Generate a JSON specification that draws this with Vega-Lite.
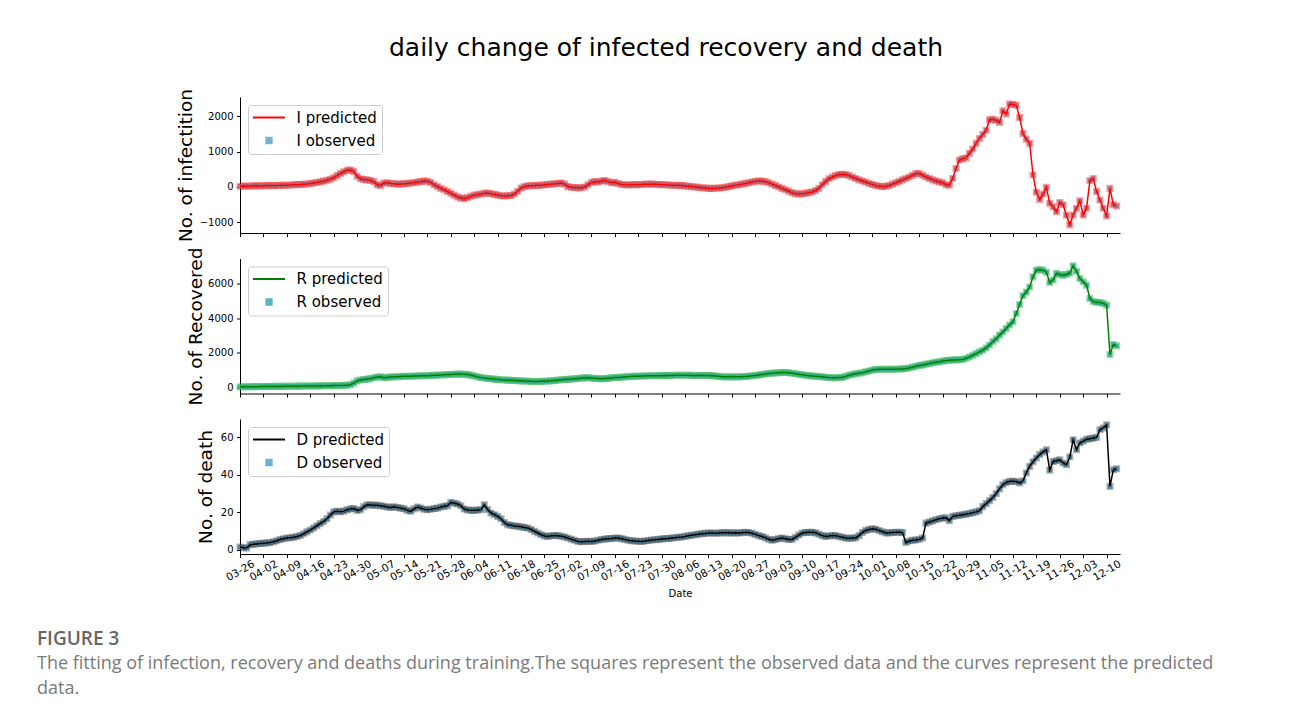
{
  "$schema": "https://vega.github.io/schema/vega-lite/v6.json",
  "padding": {"left": 37, "top": 36, "right": 5, "bottom": 5},
  "background": "white",
  "config": {
    "font": "DejaVu Sans",
    "view": {"stroke": null},
    "axis": {
      "grid": false,
      "domainColor": "#000000",
      "domainWidth": 1,
      "tickColor": "#000000",
      "tickWidth": 1,
      "tickSize": 3.5,
      "labelColor": "#000000",
      "labelFont": "DejaVu Sans",
      "labelFontSize": 10,
      "labelPadding": 3.5,
      "titleColor": "#000000",
      "titleFont": "DejaVu Sans",
      "titleFontWeight": "normal"
    },
    "axisY": {"titleFontSize": 18.5, "titlePadding": 4},
    "legend": {
      "labelFont": "DejaVu Sans",
      "labelFontSize": 15,
      "labelColor": "#000000",
      "padding": 5,
      "fillColor": "#ffffff",
      "strokeColor": "#cccccc",
      "cornerRadius": 3,
      "labelOffset": 20,
      "rowPadding": 7,
      "symbolOffset": 8.5,
      "symbolSize": 1024,
      "symbolStrokeWidth": 2
    }
  },
  "data": {
    "format": {"parse": {"t": "date:'%Y-%m-%d'"}},
    "values": [
      {"t":"2020-03-26","I":20,"R":30,"D":1.4},
      {"t":"2020-03-27","I":25,"R":35,"D":1.0},
      {"t":"2020-03-28","I":22,"R":40,"D":0.9},
      {"t":"2020-03-29","I":28,"R":40,"D":2.7},
      {"t":"2020-03-30","I":30,"R":45,"D":2.9},
      {"t":"2020-03-31","I":32,"R":45,"D":3.1},
      {"t":"2020-04-01","I":30,"R":50,"D":3.3},
      {"t":"2020-04-02","I":35,"R":50,"D":3.5},
      {"t":"2020-04-03","I":38,"R":55,"D":3.6},
      {"t":"2020-04-04","I":40,"R":55,"D":3.8},
      {"t":"2020-04-05","I":38,"R":60,"D":4.2},
      {"t":"2020-04-06","I":42,"R":60,"D":4.8},
      {"t":"2020-04-07","I":45,"R":60,"D":5.4},
      {"t":"2020-04-08","I":48,"R":65,"D":5.8},
      {"t":"2020-04-09","I":50,"R":65,"D":6.2},
      {"t":"2020-04-10","I":55,"R":70,"D":6.4},
      {"t":"2020-04-11","I":60,"R":70,"D":6.6},
      {"t":"2020-04-12","I":65,"R":75,"D":7.0},
      {"t":"2020-04-13","I":70,"R":75,"D":7.6},
      {"t":"2020-04-14","I":78,"R":80,"D":8.5},
      {"t":"2020-04-15","I":85,"R":80,"D":9.5},
      {"t":"2020-04-16","I":95,"R":85,"D":10.5},
      {"t":"2020-04-17","I":110,"R":85,"D":11.6},
      {"t":"2020-04-18","I":125,"R":90,"D":12.8},
      {"t":"2020-04-19","I":145,"R":90,"D":14.0},
      {"t":"2020-04-20","I":165,"R":95,"D":15.1},
      {"t":"2020-04-21","I":190,"R":100,"D":16.5},
      {"t":"2020-04-22","I":220,"R":100,"D":18.5},
      {"t":"2020-04-23","I":260,"R":105,"D":20.2},
      {"t":"2020-04-24","I":320,"R":110,"D":20.5},
      {"t":"2020-04-25","I":380,"R":115,"D":20.3},
      {"t":"2020-04-26","I":430,"R":120,"D":20.6},
      {"t":"2020-04-27","I":470,"R":130,"D":21.3},
      {"t":"2020-04-28","I":480,"R":160,"D":21.8},
      {"t":"2020-04-29","I":440,"R":250,"D":22.0},
      {"t":"2020-04-30","I":300,"R":380,"D":21.0},
      {"t":"2020-05-01","I":230,"R":430,"D":21.3},
      {"t":"2020-05-02","I":210,"R":460,"D":23.0},
      {"t":"2020-05-03","I":200,"R":480,"D":24.0},
      {"t":"2020-05-04","I":180,"R":510,"D":23.9},
      {"t":"2020-05-05","I":150,"R":560,"D":23.8},
      {"t":"2020-05-06","I":60,"R":600,"D":23.7},
      {"t":"2020-05-07","I":40,"R":610,"D":23.5},
      {"t":"2020-05-08","I":110,"R":560,"D":23.2},
      {"t":"2020-05-09","I":120,"R":580,"D":22.8},
      {"t":"2020-05-10","I":100,"R":600,"D":22.6},
      {"t":"2020-05-11","I":90,"R":610,"D":22.9},
      {"t":"2020-05-12","I":80,"R":620,"D":22.5},
      {"t":"2020-05-13","I":85,"R":630,"D":22.2},
      {"t":"2020-05-14","I":90,"R":640,"D":21.9},
      {"t":"2020-05-15","I":100,"R":650,"D":21.0},
      {"t":"2020-05-16","I":110,"R":650,"D":20.5},
      {"t":"2020-05-17","I":120,"R":660,"D":21.8},
      {"t":"2020-05-18","I":140,"R":660,"D":22.8},
      {"t":"2020-05-19","I":150,"R":670,"D":22.3},
      {"t":"2020-05-20","I":170,"R":670,"D":21.6},
      {"t":"2020-05-21","I":160,"R":680,"D":21.3},
      {"t":"2020-05-22","I":130,"R":690,"D":21.6},
      {"t":"2020-05-23","I":60,"R":700,"D":22.0},
      {"t":"2020-05-24","I":10,"R":710,"D":22.2},
      {"t":"2020-05-25","I":-40,"R":720,"D":22.8},
      {"t":"2020-05-26","I":-80,"R":730,"D":23.2},
      {"t":"2020-05-27","I":-130,"R":740,"D":23.5},
      {"t":"2020-05-28","I":-180,"R":750,"D":25.3},
      {"t":"2020-05-29","I":-230,"R":760,"D":24.8},
      {"t":"2020-05-30","I":-280,"R":770,"D":24.4},
      {"t":"2020-05-31","I":-310,"R":770,"D":23.5},
      {"t":"2020-06-01","I":-330,"R":760,"D":21.7},
      {"t":"2020-06-02","I":-300,"R":740,"D":21.2},
      {"t":"2020-06-03","I":-260,"R":710,"D":21.0},
      {"t":"2020-06-04","I":-230,"R":660,"D":21.0},
      {"t":"2020-06-05","I":-220,"R":610,"D":21.2},
      {"t":"2020-06-06","I":-200,"R":570,"D":21.3},
      {"t":"2020-06-07","I":-180,"R":540,"D":24.0},
      {"t":"2020-06-08","I":-170,"R":520,"D":21.5},
      {"t":"2020-06-09","I":-190,"R":500,"D":19.6},
      {"t":"2020-06-10","I":-210,"R":480,"D":18.7},
      {"t":"2020-06-11","I":-230,"R":460,"D":17.8},
      {"t":"2020-06-12","I":-250,"R":440,"D":16.5},
      {"t":"2020-06-13","I":-255,"R":430,"D":14.5},
      {"t":"2020-06-14","I":-250,"R":420,"D":13.3},
      {"t":"2020-06-15","I":-240,"R":410,"D":13.0},
      {"t":"2020-06-16","I":-200,"R":400,"D":12.7},
      {"t":"2020-06-17","I":-120,"R":390,"D":12.5},
      {"t":"2020-06-18","I":-30,"R":380,"D":12.2},
      {"t":"2020-06-19","I":10,"R":370,"D":11.9},
      {"t":"2020-06-20","I":30,"R":360,"D":11.6},
      {"t":"2020-06-21","I":35,"R":350,"D":10.8},
      {"t":"2020-06-22","I":40,"R":340,"D":9.8},
      {"t":"2020-06-23","I":45,"R":340,"D":8.9},
      {"t":"2020-06-24","I":50,"R":350,"D":8.0},
      {"t":"2020-06-25","I":60,"R":360,"D":7.3},
      {"t":"2020-06-26","I":70,"R":370,"D":7.1},
      {"t":"2020-06-27","I":80,"R":380,"D":7.4},
      {"t":"2020-06-28","I":90,"R":400,"D":7.6},
      {"t":"2020-06-29","I":100,"R":420,"D":7.5},
      {"t":"2020-06-30","I":110,"R":440,"D":7.2},
      {"t":"2020-07-01","I":80,"R":460,"D":6.8},
      {"t":"2020-07-02","I":10,"R":470,"D":6.2},
      {"t":"2020-07-03","I":-10,"R":480,"D":5.6},
      {"t":"2020-07-04","I":-15,"R":500,"D":5.0},
      {"t":"2020-07-05","I":-20,"R":520,"D":4.4},
      {"t":"2020-07-06","I":-20,"R":540,"D":4.3},
      {"t":"2020-07-07","I":0,"R":550,"D":4.4},
      {"t":"2020-07-08","I":60,"R":560,"D":4.5},
      {"t":"2020-07-09","I":130,"R":540,"D":4.4},
      {"t":"2020-07-10","I":150,"R":520,"D":4.6},
      {"t":"2020-07-11","I":140,"R":510,"D":5.0},
      {"t":"2020-07-12","I":170,"R":500,"D":5.4},
      {"t":"2020-07-13","I":180,"R":510,"D":5.7},
      {"t":"2020-07-14","I":150,"R":530,"D":5.9},
      {"t":"2020-07-15","I":120,"R":550,"D":6.0},
      {"t":"2020-07-16","I":130,"R":570,"D":6.2},
      {"t":"2020-07-17","I":100,"R":580,"D":6.2},
      {"t":"2020-07-18","I":70,"R":590,"D":5.9},
      {"t":"2020-07-19","I":60,"R":610,"D":5.5},
      {"t":"2020-07-20","I":55,"R":620,"D":5.0},
      {"t":"2020-07-21","I":60,"R":640,"D":4.8},
      {"t":"2020-07-22","I":65,"R":650,"D":4.6},
      {"t":"2020-07-23","I":60,"R":650,"D":4.5},
      {"t":"2020-07-24","I":70,"R":660,"D":4.4},
      {"t":"2020-07-25","I":75,"R":660,"D":4.6},
      {"t":"2020-07-26","I":80,"R":670,"D":4.9},
      {"t":"2020-07-27","I":80,"R":670,"D":5.2},
      {"t":"2020-07-28","I":75,"R":670,"D":5.3},
      {"t":"2020-07-29","I":70,"R":680,"D":5.5},
      {"t":"2020-07-30","I":65,"R":680,"D":5.7},
      {"t":"2020-07-31","I":60,"R":680,"D":5.9},
      {"t":"2020-08-01","I":55,"R":690,"D":6.0},
      {"t":"2020-08-02","I":50,"R":690,"D":6.2},
      {"t":"2020-08-03","I":50,"R":700,"D":6.4},
      {"t":"2020-08-04","I":45,"R":700,"D":6.6},
      {"t":"2020-08-05","I":40,"R":700,"D":6.8},
      {"t":"2020-08-06","I":30,"R":700,"D":7.1},
      {"t":"2020-08-07","I":20,"R":700,"D":7.4},
      {"t":"2020-08-08","I":10,"R":695,"D":7.7},
      {"t":"2020-08-09","I":0,"R":690,"D":8.0},
      {"t":"2020-08-10","I":-10,"R":690,"D":8.3},
      {"t":"2020-08-11","I":-20,"R":690,"D":8.5},
      {"t":"2020-08-12","I":-30,"R":690,"D":8.7},
      {"t":"2020-08-13","I":-40,"R":690,"D":8.9},
      {"t":"2020-08-14","I":-40,"R":680,"D":8.9},
      {"t":"2020-08-15","I":-35,"R":660,"D":8.8},
      {"t":"2020-08-16","I":-30,"R":640,"D":8.9},
      {"t":"2020-08-17","I":-20,"R":620,"D":9.0},
      {"t":"2020-08-18","I":-10,"R":610,"D":9.1},
      {"t":"2020-08-19","I":10,"R":610,"D":9.0},
      {"t":"2020-08-20","I":30,"R":610,"D":8.9},
      {"t":"2020-08-21","I":50,"R":610,"D":9.0},
      {"t":"2020-08-22","I":60,"R":610,"D":8.9},
      {"t":"2020-08-23","I":80,"R":620,"D":9.1},
      {"t":"2020-08-24","I":100,"R":630,"D":9.3},
      {"t":"2020-08-25","I":120,"R":650,"D":9.2},
      {"t":"2020-08-26","I":140,"R":670,"D":8.8},
      {"t":"2020-08-27","I":160,"R":690,"D":8.2},
      {"t":"2020-08-28","I":170,"R":720,"D":7.5},
      {"t":"2020-08-29","I":165,"R":750,"D":7.0},
      {"t":"2020-08-30","I":150,"R":780,"D":6.3},
      {"t":"2020-08-31","I":120,"R":800,"D":5.6},
      {"t":"2020-09-01","I":80,"R":820,"D":5.0},
      {"t":"2020-09-02","I":40,"R":840,"D":5.4},
      {"t":"2020-09-03","I":0,"R":850,"D":5.9},
      {"t":"2020-09-04","I":-40,"R":860,"D":6.2},
      {"t":"2020-09-05","I":-80,"R":860,"D":5.8},
      {"t":"2020-09-06","I":-120,"R":850,"D":5.4},
      {"t":"2020-09-07","I":-160,"R":820,"D":5.5},
      {"t":"2020-09-08","I":-190,"R":790,"D":6.6},
      {"t":"2020-09-09","I":-200,"R":760,"D":7.8},
      {"t":"2020-09-10","I":-195,"R":730,"D":8.9},
      {"t":"2020-09-11","I":-180,"R":700,"D":9.2},
      {"t":"2020-09-12","I":-160,"R":680,"D":9.3},
      {"t":"2020-09-13","I":-140,"R":660,"D":9.3},
      {"t":"2020-09-14","I":-100,"R":650,"D":9.0},
      {"t":"2020-09-15","I":-40,"R":630,"D":8.3},
      {"t":"2020-09-16","I":60,"R":610,"D":7.5},
      {"t":"2020-09-17","I":150,"R":590,"D":7.1},
      {"t":"2020-09-18","I":230,"R":570,"D":7.3},
      {"t":"2020-09-19","I":280,"R":560,"D":7.6},
      {"t":"2020-09-20","I":320,"R":560,"D":7.5},
      {"t":"2020-09-21","I":350,"R":570,"D":7.0},
      {"t":"2020-09-22","I":360,"R":580,"D":6.6},
      {"t":"2020-09-23","I":350,"R":640,"D":6.2},
      {"t":"2020-09-24","I":320,"R":700,"D":6.1},
      {"t":"2020-09-25","I":280,"R":750,"D":6.2},
      {"t":"2020-09-26","I":240,"R":790,"D":6.3},
      {"t":"2020-09-27","I":200,"R":820,"D":7.5},
      {"t":"2020-09-28","I":170,"R":850,"D":9.2},
      {"t":"2020-09-29","I":140,"R":900,"D":10.3},
      {"t":"2020-09-30","I":100,"R":950,"D":10.8},
      {"t":"2020-10-01","I":70,"R":1000,"D":11.2},
      {"t":"2020-10-02","I":40,"R":1040,"D":10.9},
      {"t":"2020-10-03","I":20,"R":1050,"D":10.2},
      {"t":"2020-10-04","I":10,"R":1050,"D":9.6},
      {"t":"2020-10-05","I":20,"R":1050,"D":8.9},
      {"t":"2020-10-06","I":40,"R":1050,"D":9.0},
      {"t":"2020-10-07","I":80,"R":1050,"D":9.2},
      {"t":"2020-10-08","I":120,"R":1050,"D":9.3},
      {"t":"2020-10-09","I":160,"R":1060,"D":9.3},
      {"t":"2020-10-10","I":200,"R":1070,"D":9.2},
      {"t":"2020-10-11","I":240,"R":1090,"D":3.9},
      {"t":"2020-10-12","I":280,"R":1120,"D":4.6},
      {"t":"2020-10-13","I":330,"R":1170,"D":5.0},
      {"t":"2020-10-14","I":380,"R":1220,"D":5.2},
      {"t":"2020-10-15","I":380,"R":1270,"D":5.6},
      {"t":"2020-10-16","I":330,"R":1300,"D":6.2},
      {"t":"2020-10-17","I":280,"R":1340,"D":14.2},
      {"t":"2020-10-18","I":240,"R":1380,"D":14.8},
      {"t":"2020-10-19","I":200,"R":1420,"D":15.4},
      {"t":"2020-10-20","I":170,"R":1450,"D":16.0},
      {"t":"2020-10-21","I":140,"R":1480,"D":16.5},
      {"t":"2020-10-22","I":120,"R":1520,"D":16.9},
      {"t":"2020-10-23","I":60,"R":1550,"D":17.0},
      {"t":"2020-10-24","I":50,"R":1570,"D":15.5},
      {"t":"2020-10-25","I":240,"R":1580,"D":17.8},
      {"t":"2020-10-26","I":520,"R":1590,"D":18.1},
      {"t":"2020-10-27","I":760,"R":1600,"D":18.4},
      {"t":"2020-10-28","I":800,"R":1610,"D":18.7},
      {"t":"2020-10-29","I":820,"R":1680,"D":19.0},
      {"t":"2020-10-30","I":950,"R":1760,"D":19.3},
      {"t":"2020-10-31","I":1070,"R":1860,"D":19.8},
      {"t":"2020-11-01","I":1230,"R":1950,"D":20.2},
      {"t":"2020-11-02","I":1370,"R":2050,"D":20.8},
      {"t":"2020-11-03","I":1480,"R":2150,"D":23.0},
      {"t":"2020-11-04","I":1600,"R":2280,"D":24.6},
      {"t":"2020-11-05","I":1900,"R":2450,"D":26.2},
      {"t":"2020-11-06","I":1910,"R":2650,"D":27.9},
      {"t":"2020-11-07","I":1880,"R":2800,"D":30.0},
      {"t":"2020-11-08","I":1820,"R":3020,"D":32.5},
      {"t":"2020-11-09","I":2150,"R":3200,"D":34.7},
      {"t":"2020-11-10","I":2060,"R":3400,"D":35.9},
      {"t":"2020-11-11","I":2340,"R":3600,"D":36.5},
      {"t":"2020-11-12","I":2330,"R":3790,"D":36.6},
      {"t":"2020-11-13","I":2310,"R":4270,"D":36.4},
      {"t":"2020-11-14","I":1960,"R":4790,"D":35.6},
      {"t":"2020-11-15","I":1510,"R":5290,"D":36.8},
      {"t":"2020-11-16","I":1350,"R":5500,"D":41.0},
      {"t":"2020-11-17","I":1230,"R":5800,"D":44.5},
      {"t":"2020-11-18","I":340,"R":6380,"D":47.0},
      {"t":"2020-11-19","I":-150,"R":6770,"D":49.0},
      {"t":"2020-11-20","I":-350,"R":6790,"D":50.8},
      {"t":"2020-11-21","I":-200,"R":6770,"D":52.2},
      {"t":"2020-11-22","I":-10,"R":6650,"D":53.4},
      {"t":"2020-11-23","I":-460,"R":6060,"D":42.5},
      {"t":"2020-11-24","I":-560,"R":6200,"D":47.1},
      {"t":"2020-11-25","I":-700,"R":6580,"D":47.5},
      {"t":"2020-11-26","I":-440,"R":6500,"D":48.0},
      {"t":"2020-11-27","I":-500,"R":6480,"D":46.3},
      {"t":"2020-11-28","I":-800,"R":6520,"D":45.4},
      {"t":"2020-11-29","I":-1070,"R":6600,"D":49.5},
      {"t":"2020-11-30","I":-790,"R":7020,"D":58.7},
      {"t":"2020-12-01","I":-600,"R":6700,"D":53.4},
      {"t":"2020-12-02","I":-390,"R":6290,"D":57.0},
      {"t":"2020-12-03","I":-790,"R":6100,"D":58.0},
      {"t":"2020-12-04","I":-600,"R":5900,"D":59.0},
      {"t":"2020-12-05","I":180,"R":5130,"D":59.3},
      {"t":"2020-12-06","I":240,"R":4950,"D":59.6},
      {"t":"2020-12-07","I":-130,"R":4920,"D":60.0},
      {"t":"2020-12-08","I":-370,"R":4900,"D":64.1},
      {"t":"2020-12-09","I":-600,"R":4850,"D":65.0},
      {"t":"2020-12-10","I":-820,"R":4750,"D":66.7},
      {"t":"2020-12-11","I":-40,"R":1900,"D":33.8},
      {"t":"2020-12-12","I":-500,"R":2480,"D":42.7},
      {"t":"2020-12-13","I":-540,"R":2400,"D":43.2}
    ]
  },
  "title": {
    "text": "daily change of infected recovery and death",
    "font": "DejaVu Sans",
    "fontSize": 25,
    "fontWeight": "normal",
    "color": "#000000",
    "anchor": "middle",
    "frame": "group",
    "dx": -14,
    "offset": 27
  },
  "bounds": "flush",
  "spacing": 25.5,
  "resolve": {"scale": {"color": "independent"}},
  "vconcat": [
    {
      "width": 880,
      "height": 136,
      "encoding": {
        "x": {
          "field": "t", "type": "temporal",
          "scale": {"domain": [{"year": 2020, "month": 3, "date": 26}, {"year": 2020, "month": 12, "date": 14}], "nice": false},
          "axis": {"title": null, "labels": false, "values": [
            {"year":2020,"month":3,"date":26},{"year":2020,"month":4,"date":2},{"year":2020,"month":4,"date":9},{"year":2020,"month":4,"date":16},{"year":2020,"month":4,"date":23},{"year":2020,"month":4,"date":30},
            {"year":2020,"month":5,"date":7},{"year":2020,"month":5,"date":14},{"year":2020,"month":5,"date":21},{"year":2020,"month":5,"date":28},{"year":2020,"month":6,"date":4},{"year":2020,"month":6,"date":11},
            {"year":2020,"month":6,"date":18},{"year":2020,"month":6,"date":25},{"year":2020,"month":7,"date":2},{"year":2020,"month":7,"date":9},{"year":2020,"month":7,"date":16},{"year":2020,"month":7,"date":23},
            {"year":2020,"month":7,"date":30},{"year":2020,"month":8,"date":6},{"year":2020,"month":8,"date":13},{"year":2020,"month":8,"date":20},{"year":2020,"month":8,"date":27},{"year":2020,"month":9,"date":3},
            {"year":2020,"month":9,"date":10},{"year":2020,"month":9,"date":17},{"year":2020,"month":9,"date":24},{"year":2020,"month":10,"date":1},{"year":2020,"month":10,"date":8},{"year":2020,"month":10,"date":15},
            {"year":2020,"month":10,"date":22},{"year":2020,"month":10,"date":29},{"year":2020,"month":11,"date":5},{"year":2020,"month":11,"date":12},{"year":2020,"month":11,"date":19},{"year":2020,"month":11,"date":26},
            {"year":2020,"month":12,"date":3},{"year":2020,"month":12,"date":10}]}
        },
        "y": {
          "field": "I", "type": "quantitative",
          "scale": {"domain": [-1300, 2540], "nice": false, "zero": false},
          "axis": {"title": "No. of infectition", "values": [-1000, 0, 1000, 2000], "format": "d", "labelExpr": "replace(datum.label, '-', '−')"}
        }
      },
      "layer": [
        {
          "mark": {"type": "point", "shape": "square", "filled": true, "size": 20, "opacity": 1, "stroke": "rgba(255,0,0,0.38)", "strokeWidth": 2.6},
          "encoding": {
            "color": {
              "datum": "I observed", "type": "nominal",
              "scale": {"domain": ["I predicted", "I observed"], "range": ["#ff0000", "#76b2d3"]},
              "legend": {
                "orient": "none", "legendX": 8, "legendY": 8, "title": null, "columns": 1, "symbolSize": 1024, "symbolStrokeWidth": 2,
                "encoding": {"symbols": {
                  "shape": {"value": {"expr": "datum.index === 0 ? 'stroke' : 'M-0.15,-0.15H0.15V0.15H-0.15Z'"}},
                  "strokeWidth": {"value": {"expr": "datum.index === 0 ? 2 : 2.5"}},
                  "fill": {"value": {"expr": "datum.index === 0 ? 'transparent' : '#76b2d3'"}},
                  "stroke": {"value": {"expr": "datum.index === 0 ? '#ff0000' : 'rgba(255,0,0,0.38)'"}},
                  "opacity": {"value": 1}
                }}
              }
            }
          }
        },
        {
          "mark": {"type": "line", "strokeWidth": 1.5},
          "encoding": {"color": {"datum": "I predicted", "type": "nominal"}}
        }
      ]
    },
    {
      "width": 880,
      "height": 135,
      "encoding": {
        "x": {
          "field": "t", "type": "temporal",
          "scale": {"domain": [{"year": 2020, "month": 3, "date": 26}, {"year": 2020, "month": 12, "date": 14}], "nice": false},
          "axis": {"title": null, "labels": false, "values": [
            {"year":2020,"month":3,"date":26},{"year":2020,"month":4,"date":2},{"year":2020,"month":4,"date":9},{"year":2020,"month":4,"date":16},{"year":2020,"month":4,"date":23},{"year":2020,"month":4,"date":30},
            {"year":2020,"month":5,"date":7},{"year":2020,"month":5,"date":14},{"year":2020,"month":5,"date":21},{"year":2020,"month":5,"date":28},{"year":2020,"month":6,"date":4},{"year":2020,"month":6,"date":11},
            {"year":2020,"month":6,"date":18},{"year":2020,"month":6,"date":25},{"year":2020,"month":7,"date":2},{"year":2020,"month":7,"date":9},{"year":2020,"month":7,"date":16},{"year":2020,"month":7,"date":23},
            {"year":2020,"month":7,"date":30},{"year":2020,"month":8,"date":6},{"year":2020,"month":8,"date":13},{"year":2020,"month":8,"date":20},{"year":2020,"month":8,"date":27},{"year":2020,"month":9,"date":3},
            {"year":2020,"month":9,"date":10},{"year":2020,"month":9,"date":17},{"year":2020,"month":9,"date":24},{"year":2020,"month":10,"date":1},{"year":2020,"month":10,"date":8},{"year":2020,"month":10,"date":15},
            {"year":2020,"month":10,"date":22},{"year":2020,"month":10,"date":29},{"year":2020,"month":11,"date":5},{"year":2020,"month":11,"date":12},{"year":2020,"month":11,"date":19},{"year":2020,"month":11,"date":26},
            {"year":2020,"month":12,"date":3},{"year":2020,"month":12,"date":10}]}
        },
        "y": {
          "field": "R", "type": "quantitative",
          "scale": {"domain": [-350, 7440], "nice": false, "zero": false},
          "axis": {"title": "No. of Recovered", "values": [0, 2000, 4000, 6000], "format": "d", "titlePadding": 2}
        }
      },
      "layer": [
        {
          "mark": {"type": "point", "shape": "square", "filled": true, "size": 20, "opacity": 1, "stroke": "rgba(20,170,60,0.42)", "strokeWidth": 2.6},
          "encoding": {
            "color": {
              "datum": "R observed", "type": "nominal",
              "scale": {"domain": ["R predicted", "R observed"], "range": ["#008000", "#5db4c6"]},
              "legend": {
                "orient": "none", "legendX": 8, "legendY": 8, "title": null, "columns": 1, "symbolSize": 1024, "symbolStrokeWidth": 2,
                "encoding": {"symbols": {
                  "shape": {"value": {"expr": "datum.index === 0 ? 'stroke' : 'M-0.15,-0.15H0.15V0.15H-0.15Z'"}},
                  "strokeWidth": {"value": {"expr": "datum.index === 0 ? 2 : 2.5"}},
                  "fill": {"value": {"expr": "datum.index === 0 ? 'transparent' : '#5db4c6'"}},
                  "stroke": {"value": {"expr": "datum.index === 0 ? '#008000' : 'rgba(20,170,60,0.45)'"}},
                  "opacity": {"value": 1}
                }}
              }
            }
          }
        },
        {
          "mark": {"type": "line", "strokeWidth": 1.5},
          "encoding": {"color": {"datum": "R predicted", "type": "nominal"}}
        }
      ]
    },
    {
      "width": 880,
      "height": 135,
      "title": {
        "text": "FIGURE 3",
        "subtitle": ["The fitting of infection, recovery and deaths during training.The squares represent the observed data and the curves represent the predicted", "data."],
        "orient": "bottom",
        "anchor": "start",
        "frame": "group",
        "dx": -203,
        "offset": 31,
        "font": "Open Sans",
        "fontSize": 19,
        "fontWeight": 600,
        "color": "#666666",
        "subtitleFont": "Open Sans",
        "subtitleFontSize": 18,
        "subtitleColor": "#7a7a7a",
        "subtitlePadding": 6,
        "subtitleLineHeight": 25
      },
      "encoding": {
        "x": {
          "field": "t", "type": "temporal",
          "scale": {"domain": [{"year": 2020, "month": 3, "date": 26}, {"year": 2020, "month": 12, "date": 14}], "nice": false},
          "axis": {
            "title": "Date", "titleFontSize": 10, "titlePadding": 6,
            "format": "%m-%d", "labelAngle": -30, "labelAlign": "center", "labelBaseline": "middle", "labelPadding": 13, "labelOverlap": false, "labelFontSize": 10.5,
            "values": [
            {"year":2020,"month":3,"date":26},{"year":2020,"month":4,"date":2},{"year":2020,"month":4,"date":9},{"year":2020,"month":4,"date":16},{"year":2020,"month":4,"date":23},{"year":2020,"month":4,"date":30},
            {"year":2020,"month":5,"date":7},{"year":2020,"month":5,"date":14},{"year":2020,"month":5,"date":21},{"year":2020,"month":5,"date":28},{"year":2020,"month":6,"date":4},{"year":2020,"month":6,"date":11},
            {"year":2020,"month":6,"date":18},{"year":2020,"month":6,"date":25},{"year":2020,"month":7,"date":2},{"year":2020,"month":7,"date":9},{"year":2020,"month":7,"date":16},{"year":2020,"month":7,"date":23},
            {"year":2020,"month":7,"date":30},{"year":2020,"month":8,"date":6},{"year":2020,"month":8,"date":13},{"year":2020,"month":8,"date":20},{"year":2020,"month":8,"date":27},{"year":2020,"month":9,"date":3},
            {"year":2020,"month":9,"date":10},{"year":2020,"month":9,"date":17},{"year":2020,"month":9,"date":24},{"year":2020,"month":10,"date":1},{"year":2020,"month":10,"date":8},{"year":2020,"month":10,"date":15},
            {"year":2020,"month":10,"date":22},{"year":2020,"month":10,"date":29},{"year":2020,"month":11,"date":5},{"year":2020,"month":11,"date":12},{"year":2020,"month":11,"date":19},{"year":2020,"month":11,"date":26},
            {"year":2020,"month":12,"date":3},{"year":2020,"month":12,"date":10}]
          }
        },
        "y": {
          "field": "D", "type": "quantitative",
          "scale": {"domain": [-2.3, 69.8], "nice": false, "zero": false},
          "axis": {"title": "No. of death", "values": [0, 20, 40, 60], "format": "d", "titlePadding": 5}
        }
      },
      "layer": [
        {
          "mark": {"type": "point", "shape": "square", "filled": true, "size": 20, "opacity": 1, "stroke": "rgba(0,0,0,0.3)", "strokeWidth": 2.6},
          "encoding": {
            "color": {
              "datum": "D observed", "type": "nominal",
              "scale": {"domain": ["D predicted", "D observed"], "range": ["#000000", "#6cb0d4"]},
              "legend": {
                "orient": "none", "legendX": 8, "legendY": 8, "title": null, "columns": 1, "symbolSize": 1024, "symbolStrokeWidth": 2,
                "encoding": {"symbols": {
                  "shape": {"value": {"expr": "datum.index === 0 ? 'stroke' : 'M-0.15,-0.15H0.15V0.15H-0.15Z'"}},
                  "strokeWidth": {"value": {"expr": "datum.index === 0 ? 2 : 2.5"}},
                  "fill": {"value": {"expr": "datum.index === 0 ? 'transparent' : '#6cb0d4'"}},
                  "stroke": {"value": {"expr": "datum.index === 0 ? '#000000' : 'rgba(0,0,0,0.35)'"}},
                  "opacity": {"value": 1}
                }}
              }
            }
          }
        },
        {
          "mark": {"type": "line", "strokeWidth": 1.5},
          "encoding": {"color": {"datum": "D predicted", "type": "nominal"}}
        }
      ]
    }
  ]
}
